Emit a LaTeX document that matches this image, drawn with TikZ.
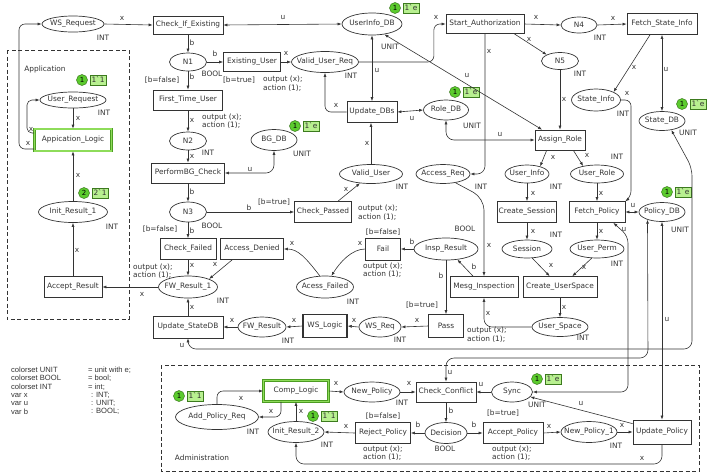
\documentclass[tikz,border=0pt]{standalone}
\usepackage{fontspec}
\setmainfont{DejaVu Sans}
\newfontfamily\declfont{Liberation Sans}
\usetikzlibrary{shapes.geometric,arrows.meta,calc}
\definecolor{ink}{HTML}{333333}
\definecolor{tokG}{HTML}{5CCB2E}
\definecolor{tokD}{HTML}{3C7A1E}
\definecolor{tokL}{HTML}{B8F090}
\definecolor{grD}{HTML}{4C9C22}
\definecolor{grL}{HTML}{8EDC5A}
\newcounter{lbc}\newcounter{tkc}
\newcommand\mklab[3]{\stepcounter{lbc}\node[lbl] (lb\arabic{lbc}) at (#1,#2) {#3};}
\newcommand\mkoa[2]{\stepcounter{lbc}\node[lbl,anchor=west,align=left] (lb\arabic{lbc}) at (#1,#2) {output (x);\\action (1);};}
\newcommand\mktok[4]{\stepcounter{tkc}\node[tokc] (tc\arabic{tkc}) at (#1,#2) {#3};\node[tokb,anchor=west] (tb\arabic{tkc}) at ($(tc\arabic{tkc}.east)+(2,0)$) {#4};}
\newcommand\mkplace[6]{\node[place, minimum width=#4pt, minimum height=#5pt] (#1) at (#2,#3) {#6};}
\newcommand\mktrans[6]{\node[trans, minimum width=#4pt, minimum height=#5pt] (#1) at (#2,#3) {#6};}
\begin{document}
\begin{tikzpicture}[x=1pt,y=-1pt,
  font=\fontsize{7.4}{8.5}\selectfont,
  place/.style={ellipse, draw=ink, line width=0.7pt, inner sep=-40pt, text=ink},
  trans/.style={rectangle, draw=ink, line width=0.7pt, inner sep=0pt, text=ink},
  lbl/.style={inner sep=0pt, text=ink},
  decl/.style={inner sep=0pt, text=ink, align=left, font=\declfont\fontsize{7.6}{8.4}\selectfont},
  arc/.style={draw=ink, line width=0.6pt, -{Latex[length=4pt,width=3pt]}},
  darc/.style={draw=ink, line width=0.6pt, {Latex[length=4pt,width=3pt]}-{Latex[length=4pt,width=3pt]}},
  tokc/.style={circle, fill=tokG, draw=tokD, line width=0.5pt, minimum size=11pt, inner sep=0pt, font=\fontsize{7}{8}\selectfont},
  tokb/.style={rectangle, fill=tokL, draw=tokD, line width=0.5pt, minimum height=10pt, inner xsep=1.5pt, inner ysep=0pt, text=ink},
  grn/.style={draw=grD, line width=0.6pt, double=grL, double distance=1.6pt},
  dbox/.style={draw=ink, line width=0.9pt, dash pattern=on 4pt off 2.5pt}
]
\useasboundingbox (0,0) rectangle (711,475);

% dashed regions
\draw[dbox] (7,50) rectangle (129,319);
\draw[dbox] (161,365) rectangle (699,471);

% places
\mkplace{WSRequest}{73}{24}{62}{16}{WS\_Request}
\mkplace{UserRequest}{73}{100}{66}{16}{User\_Request}
\mkplace{InitResultA}{73}{212}{69}{21}{Init\_Result\_1}
\mkplace{NA}{188}{62}{37}{18}{N1}
\mkplace{NB}{188}{141}{37}{18}{N2}
\mkplace{NC}{188}{212}{37}{20}{N3}
\mkplace{ValidUserReq}{325}{62}{67}{21}{Valid\_User\_Req}
\mkplace{UserInfoDB}{372}{24}{60}{22}{UserInfo\_DB}
\mkplace{BGDB}{274}{140}{46}{21}{BG\_DB}
\mkplace{RoleDB}{446}{110}{45}{20}{Role\_DB}
\mkplace{ND}{579}{25}{36}{16}{N4}
\mkplace{NE}{560}{61}{37}{17}{N5}
\mkplace{StateInfo}{596}{100}{49}{22}{State\_Info}
\mkplace{StateDB}{662}{121}{46}{19}{State\_DB}
\mkplace{ValidUser}{371}{174}{63}{19}{Valid\_User}
\mkplace{AccessReq}{443}{174}{54}{19}{Access\_Req}
\mkplace{UserInfo}{527}{174}{44}{18}{User\_Info}
\mkplace{UserRole}{597}{174}{53}{18}{User\_Role}
\mkplace{InspResult}{446}{249}{64}{22}{Insp\_Result}
\mkplace{Session}{527}{249}{50}{18}{Session}
\mkplace{UserPerm}{597}{249}{54}{18}{User\_Perm}
\mkplace{PolicyDB}{662}{212}{46}{19}{Policy\_DB}
\mkplace{FWResultA}{188}{287}{59}{22}{FW\_Result\_1}
\mkplace{AcessFailed}{325}{287}{57}{22}{Acess\_Failed}
\mkplace{FWResult}{262}{327}{48}{20}{FW\_Result}
\mkplace{WSReq}{380}{327}{42}{20}{WS\_Req}
\mkplace{UserSpace}{560}{327}{56}{19}{User\_Space}
\mkplace{AddPolicyReq}{217}{417}{83}{25}{Add\_Policy\_Req}
\mkplace{InitResultB}{296}{432}{56}{21}{Init\_Result\_2}
\mkplace{NewPolicy}{372}{392}{56}{20}{New\_Policy}
\mkplace{Sync}{512}{392}{41}{20}{Sync}
\mkplace{Decision}{446}{433}{42}{21}{Decision}
\mkplace{NewPolicyA}{589}{432}{56}{21}{New\_Policy\_1}

% transitions
\mktrans{CheckIfExisting}{188}{25}{70}{18}{Check\_If\_Existing}
\mktrans{ExistingUser}{252}{62}{57}{19}{Existing\_User}
\mktrans{FirstTimeUser}{188}{100}{69}{20}{First\_Time\_User}
\mktrans{PerformBGCheck}{188}{173}{73}{20}{PerformBG\_Check}
\mktrans{CheckFailed}{188}{249}{56}{21}{Check\_Failed}
\mktrans{AccessDenied}{252}{249}{63}{21}{Access\_Denied}
\mktrans{CheckPassed}{323}{212}{57}{21}{Check\_Passed}
\mktrans{Fail}{383}{249}{35}{22}{Fail}
\mktrans{UpdateDBs}{372}{112}{50}{21}{Update\_DBs}
\mktrans{StartAuth}{485}{24}{78}{19}{Start\_Authorization}
\mktrans{FetchStateInfo}{662}{24}{70}{21}{Fetch\_State\_Info}
\mktrans{AssignRole}{560}{140}{50}{20}{Assign\_Role}
\mktrans{CreateSession}{527}{212}{59}{21}{Create\_Session}
\mktrans{FetchPolicy}{597}{212}{56}{21}{Fetch\_Policy}
\mktrans{MesgInspection}{484}{287}{68}{21}{Mesg\_Inspection}
\mktrans{CreateUserSpace}{560}{287}{74}{21}{Create\_UserSpace}
\mktrans{Pass}{446}{326}{35}{23}{Pass}
\node[trans, line width=1.4pt, minimum width=44pt, minimum height=23pt] (WSLogic) at (325,326) {WS\_Logic};
\mktrans{UpdateStateDB}{188}{327}{70}{22}{Update\_StateDB}
\mktrans{AcceptResult}{73}{287}{58}{21}{Accept\_Result}
\node[trans, grn, minimum width=77pt, minimum height=22pt] (AppLogic) at (73,140) {Appication\_Logic};
\node[trans, grn, minimum width=65pt, minimum height=21pt] (CompLogic) at (296,391) {Comp\_Logic};
\mktrans{RejectPolicy}{383}{433}{55}{21}{Reject\_Policy}
\mktrans{CheckConflict}{446}{392}{60}{20}{Check\_Conflict}
\mktrans{AcceptPolicy}{513}{433}{60}{21}{Accept\_Policy}
\mktrans{UpdatePolicy}{662}{432}{58}{24}{Update\_Policy}

% tokens
\mktok{82}{80}{1}{1\textasciigrave 1}
\mktok{395}{8}{1}{1\textasciigrave e}
\mktok{295}{126}{1}{1\textasciigrave e}
\mktok{455}{92}{1}{1\textasciigrave e}
\mktok{682}{104}{1}{1\textasciigrave e}
\mktok{667}{192}{1}{1\textasciigrave e}
\mktok{84}{193}{2}{2\textasciigrave 1}
\mktok{179}{396}{1}{1\textasciigrave 1}
\mktok{313}{416}{1}{1\textasciigrave 1}
\mktok{537}{379}{1}{1\textasciigrave e}

% connectors
\draw[arc] (WSRequest.east) -- (CheckIfExisting.west);
\draw[darc] (CheckIfExisting.east) -- (UserInfoDB.west);
\draw[arc] (CheckIfExisting.south) -- (NA.north);
\draw[arc] (NA.east) -- (ExistingUser.west);
\draw[arc] (NA.south) -- (FirstTimeUser.north);
\draw[arc] (ExistingUser.east) -- (ValidUserReq.west);
\draw[arc, rounded corners=6pt] (ValidUserReq.east) -- ++(75,0) |- (StartAuth.west);
\draw[darc] (UserInfoDB.south) -- (UpdateDBs.north);
\draw[darc] (UserInfoDB.-40) -- (AssignRole.150);
\draw[darc] (UpdateDBs.east) -- (RoleDB.west);
\draw[darc, rounded corners=8pt] (RoleDB.south) |- (AssignRole.west);
\draw[arc, rounded corners=6pt] (UpdateDBs.west) -| (ValidUserReq.south);
\draw[arc] (ValidUser.north) -- (ValidUser.north |- UpdateDBs.south);
\draw[arc] (StartAuth.east) -- (ND.west);
\draw[arc] (ND.east) -- (FetchStateInfo.west);
\draw[arc] ($(StartAuth.south east)+(-10,0)$) -- (NE.north west);
\draw[arc] (NE.south) -- (AssignRole.north);
\draw[arc, rounded corners=8pt] (StartAuth.south) |- (AccessReq.east);
\draw[arc, rounded corners=12pt] (AccessReq.-35) -- (484,198) -- (MesgInspection.north);
\draw[darc] (FetchStateInfo.south) -- (StateDB.north);
\draw[arc] ($(FetchStateInfo.south)+(-12,0)$) -- (StateInfo.north east);
\draw[arc, rounded corners=6pt] (StateInfo.east) -- (631,100) -- (631,197) -- (FetchPolicy.north east);
\draw[arc] ($(AssignRole.south west)+(12,0)$) -- (UserInfo.30);
\draw[arc] ($(AssignRole.south east)+(-12,0)$) -- (UserRole.150);
\draw[arc] (UserInfo.south) -- (CreateSession.north);
\draw[arc] (CreateSession.south) -- (Session.north);
\draw[arc] (UserRole.south) -- (FetchPolicy.north);
\draw[arc] (FetchPolicy.south) -- (UserPerm.north);
\draw[darc] (FetchPolicy.east) -- (PolicyDB.west);
\draw[arc] (Session.-60) -- ($(CreateUserSpace.north west)+(27,0)$);
\draw[arc] (UserPerm.-120) -- ($(CreateUserSpace.north east)+(-25,0)$);
\draw[arc] (CreateUserSpace.south) -- (UserSpace.north);
\draw[arc, rounded corners=8pt] (UserSpace.west) -| (MesgInspection.south);
\draw[arc] ($(MesgInspection.north)+(-11,0)$) -- (InspResult.-43);
\draw[arc] (InspResult.west) -- (Fail.east);
\draw[arc] (InspResult.south) -- (Pass.north);
\draw[arc] (Pass.west) -- (WSReq.east);
\draw[arc] (WSReq.west) -- (WSLogic.east);
\draw[arc] (WSLogic.west) -- (FWResult.east);
\draw[arc] (FWResult.west) -- (UpdateStateDB.east);
\draw[arc] (UpdateStateDB.north) -- (FWResultA.south);
\draw[arc] (Fail.west) .. controls (352,249) and (340,262) .. (AcessFailed.60);
\draw[arc] (AcessFailed.115) .. controls (306,258) and (298,249) .. (AccessDenied.east);
\draw[arc] ($(AccessDenied.south west)+(12,0)$) -- (FWResultA.north east);
\draw[arc] (CheckFailed.south) -- (FWResultA.north);
\draw[arc] (NC.south) -- (CheckFailed.north);
\draw[arc] (NC.east) -- (CheckPassed.west);
\draw[arc] (PerformBGCheck.south) -- (NC.north);
\draw[arc] (NB.south) -- (PerformBGCheck.north);
\draw[arc] (FirstTimeUser.south) -- (NB.north);
\draw[darc, rounded corners=8pt] (BGDB.south) |- (PerformBGCheck.east);
\draw[arc] ($(CheckPassed.north)+(15,0)$) -- (ValidUser.-140);
\draw[arc] (FWResultA.west) -- (AcceptResult.east);
\draw[arc] (AcceptResult.north) -- (InitResultA.south);
\draw[arc] (InitResultA.north) -- (AppLogic.south);
\draw[arc] (UserRequest.south) -- (AppLogic.north);
\draw[arc, rounded corners=5pt] ($(AppLogic.west)+(0,-7)$) -- (27,133) -- (27,100) -- (UserRequest.west);
\draw[arc, rounded corners=6pt] ($(AppLogic.west)+(0,9)$) -- (19,149) -- (19,24) -- (WSRequest.west);
\draw[arc, rounded corners=6pt] (AddPolicyReq.north) |- (CompLogic.west);
\draw[arc, rounded corners=6pt] ($(CompLogic.south)+(-15,0)$) |- (AddPolicyReq.east);
\draw[arc] (InitResultB.north) -- (CompLogic.south);
\draw[arc] (CompLogic.east) -- (NewPolicy.west);
\draw[arc] (NewPolicy.east) -- (CheckConflict.west);
\draw[arc] (Sync.west) -- (CheckConflict.east);
\draw[arc] (CheckConflict.south) -- (Decision.north);
\draw[arc] (Decision.west) -- (RejectPolicy.east);
\draw[arc] (Decision.east) -- (AcceptPolicy.west);
\draw[arc] (RejectPolicy.west) -- (InitResultB.east);
\draw[arc] (AcceptPolicy.east) -- (NewPolicyA.west);
\draw[arc] (NewPolicyA.east) -- (UpdatePolicy.west);
\draw[arc] ($(UpdatePolicy.north west)+(0,4)$) -- (Sync.-15);
\draw[arc, rounded corners=8pt] (UpdatePolicy.south) -- (662,464) -| (InitResultB.south);
\draw[darc, rounded corners=7pt] (Sync.east) -- (628,392) -- (628,236) -- ($(FetchPolicy.south east)+(-12,0)$);
\draw[darc, rounded corners=8pt] (CheckConflict.north) |- (648,358) -- (PolicyDB.-152);
\draw[darc] (UpdatePolicy.north) -- (PolicyDB.south);
\draw[darc, rounded corners=8pt] (UpdateStateDB.south) |- (692,349) -- (692,168) -- (StateDB.-44);

% labels
\mklab{122}{18}{x}
\mklab{283}{17}{u}
\mklab{192}{43}{b}
\mklab{215}{54}{b}
\mklab{192}{77}{b}
\mklab{162}{80}{[b=false]}
\mklab{212}{74}{BOOL}
\mklab{286}{53}{x}
\mklab{239}{80}{[b=true]}
\mkoa{263}{83.5}
\mklab{351}{76}{INT}
\mklab{377}{70}{u}
\mklab{436}{17}{x}
\mklab{390}{47}{UNIT}
\mklab{536}{17}{x}
\mklab{600}{38}{INT}
\mklab{613}{18}{x}
\mklab{529}{39}{x}
\mklab{580}{74}{INT}
\mklab{564}{99}{x}
\mklab{489}{51}{x}
\mklab{467}{75}{u}
\mklab{666}{69}{u}
\mklab{634}{67}{x}
\mklab{627}{93}{x}
\mklab{623}{114}{INT}
\mklab{688}{133}{UNIT}
\mklab{192}{120}{x}
\mkoa{202}{121}
\mklab{208}{153}{INT}
\mklab{192}{156}{x}
\mklab{336}{105}{x}
\mklab{412}{118}{u}
\mklab{472}{126}{UNIT}
\mklab{500}{134}{u}
\mklab{302}{154}{UNIT}
\mklab{367}{143}{x}
\mklab{250}{169}{u}
\mklab{192}{192}{b}
\mklab{212}{226}{BOOL}
\mklab{160}{229}{[b=false]}
\mklab{192}{231}{b}
\mklab{249}{208}{b}
\mklab{274}{202}{[b=true]}
\mklab{346}{189}{x}
\mkoa{358}{212.5}
\mklab{402}{187}{INT}
\mklab{481}{187}{INT}
\mklab{553}{157}{x}
\mklab{587}{155}{x}
\mklab{617}{157}{INT}
\mklab{556}{187}{INT}
\mklab{533}{193}{x}
\mklab{601}{193}{x}
\mklab{633}{205}{u}
\mklab{680}{230}{UNIT}
\mklab{624}{229}{u}
\mklab{533}{231}{x}
\mklab{556}{235}{INT}
\mklab{601}{231}{x}
\mklab{617}{264}{INT}
\mklab{551}{265}{x}
\mklab{584}{267}{x}
\mklab{564}{307}{x}
\mklab{583}{338}{INT}
\mklab{489}{245}{x}
\mklab{465}{229}{BOOL}
\mklab{412}{242}{b}
\mklab{383}{232}{[b=false]}
\mklab{360}{243}{x}
\mkoa{363}{270}
\mklab{474}{267}{b}
\mklab{441}{276}{b}
\mklab{422}{305}{[b=true]}
\mklab{417}{320}{x}
\mklab{354}{320}{x}
\mklab{400}{340}{INT}
\mkoa{467}{334.5}
\mklab{488}{313}{x}
\mklab{294}{320}{x}
\mklab{288}{341}{INT}
\mklab{232}{320}{x}
\mklab{192}{307}{x}
\mklab{223}{301}{INT}
\mklab{215}{264}{x}
\mklab{192}{265}{x}
\mkoa{133}{271}
\mklab{292}{243}{x}
\mklab{353}{302}{INT}
\mklab{142}{294}{x}
\mklab{77}{250}{x}
\mklab{112}{227}{INT}
\mklab{78}{175}{x}
\mklab{104}{113}{INT}
\mklab{78}{118}{x}
\mklab{31}{129}{x}
\mklab{28}{143}{x}
\mklab{103}{38}{INT}
\mklab{45}{69}{Application}
\mklab{182}{345}{u}
\mklab{450}{372}{u}
\mklab{667}{319}{u}
\mklab{241}{398}{x}
\mklab{271}{411}{x}
\mklab{253}{432}{INT}
\mklab{202}{458}{Administration}
\mklab{301}{411}{x}
\mklab{327}{445}{INT}
\mklab{336}{383}{x}
\mklab{402}{403}{INT}
\mklab{409}{383}{x}
\mklab{481}{384}{u}
\mklab{537}{405}{UNIT}
\mklab{451}{411}{b}
\mklab{346}{426}{x}
\mklab{383}{416}{[b=false]}
\mkoa{363}{453}
\mklab{418}{425}{b}
\mklab{474}{425}{b}
\mklab{445}{449}{BOOL}
\mklab{503}{413}{[b=true]}
\mkoa{492}{453}
\mklab{549}{426}{x}
\mklab{616}{446}{INT}
\mklab{622}{425}{x}
\mklab{581}{403}{u}
\mklab{642}{458}{x}

% declarations
\node[decl, anchor=north west] (declA) at (11,366.5) {colorset UNIT\\colorset BOOL\\colorset INT\\var x\\var u\\var b};
\node[decl, anchor=north west] (declB) at (88,366.5) {= unit with e;\\= bool;\\= int;};
\node[decl, anchor=north west] (declC) at (91,391.7) {: INT;\\: UNIT;\\: BOOL;};
\end{tikzpicture}
\end{document}
